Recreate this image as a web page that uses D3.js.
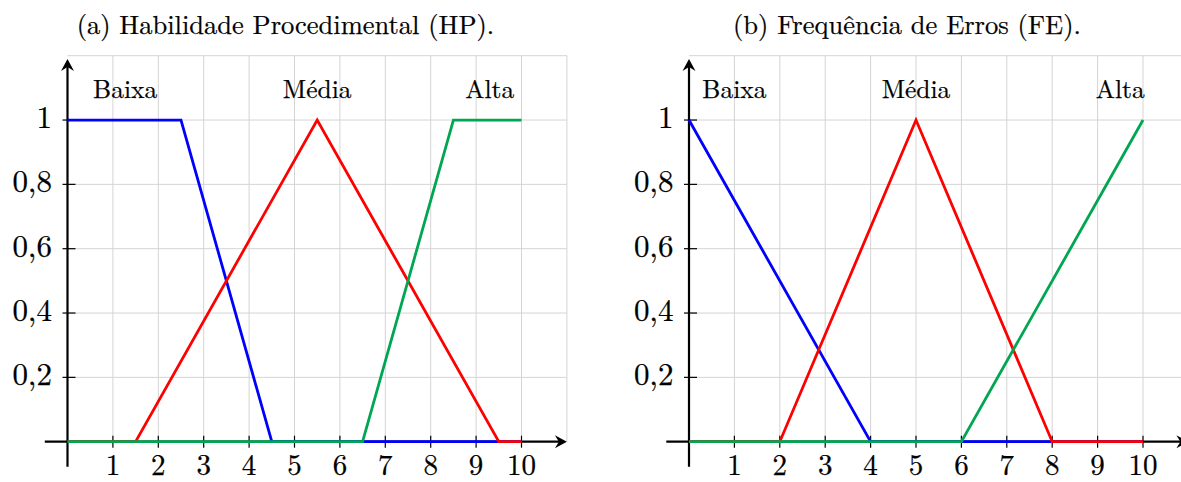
<!DOCTYPE html>
<html lang="pt">
<head>
<meta charset="UTF-8">
<title>Funções de pertinência</title>
<script src="https://d3js.org/d3.v7.min.js"></script>
<style>
  body { margin: 0; background: #fff; }
  .grid line { stroke: #d4d4d4; stroke-width: 1; }
  .curve { fill: none; stroke-width: 2.8; }
</style>
</head>
<body>
<svg id="chart" width="1181" height="482"></svg>
<script>
    const xTicks = [1, 2, 3, 4, 5, 6, 7, 8, 9, 10];
    const yTicks = [0.2, 0.4, 0.6, 0.8, 1];
    const yTickLabels = ["0,2", "0,4", "0,6", "0,8", "1"];
    const setNames = ["Baixa", "Média", "Alta"];
    const colors = ["#0000ff", "#ff0000", "#00a651"];

    // (a) Habilidade Procedimental
    const hpBaixa = [[0, 1], [2.5, 1], [4.5, 0], [10, 0]];
    const hpMedia = [[0, 0], [1.5, 0], [5.5, 1], [9.5, 0], [10, 0]];
    const hpAlta  = [[0, 0], [6.5, 0], [8.5, 1], [10, 1]];
    const hpLabelX = [1.27, 5.5, 9.3];

    // (b) Frequencia de Erros
    const feBaixa = [[0, 1], [4, 0], [10, 0]];
    const feMedia = [[0, 0], [2, 0], [5, 1], [8, 0], [10, 0]];
    const feAlta  = [[0, 0], [6, 0], [10, 1]];
    const feLabelX = [1, 5, 9.5];

    const panels = [
        { title: "(a) Habilidade Procedimental (HP).", left: 67.5, sets: [hpBaixa, hpMedia, hpAlta], labelX: hpLabelX },
        { title: "(b) Frequência de Erros (FE).", left: 689, sets: [feBaixa, feMedia, feAlta], labelX: feLabelX }
    ];

    const font = "'Latin Modern Roman', 'Liberation Serif', serif";
    const svg = d3.select("#chart");
    const unit = 45.4;

    // text helper, light stroke to get the heavier TeX look
    function label(sel, size) {
        return sel.style("font-family", font).style("font-size", size + "px")
            .attr("fill", "#000").attr("stroke", "#000").attr("stroke-width", 0.25);
    }

    function drawPanel(p) {
        const x = d3.scaleLinear().domain([0, 11]).range([p.left, p.left + 11 * unit]);
        const y = d3.scaleLinear().domain([0, 1.2]).range([441.7, 55.7]);
        const g = svg.append("g");

        // grid
        const grid = g.append("g").attr("class", "grid");
        grid.selectAll(".v").data(d3.range(1, 12)).enter().append("line")
            .attr("x1", d => x(d)).attr("x2", d => x(d))
            .attr("y1", y(0)).attr("y2", y(1.2));
        grid.selectAll(".h").data(yTicks.concat([1.2])).enter().append("line")
            .attr("x1", x(0)).attr("x2", x(11))
            .attr("y1", d => y(d)).attr("y2", d => y(d));

        // axes
        g.append("line").attr("x1", x(-0.5)).attr("x2", x(11) - 6)
            .attr("y1", y(0)).attr("y2", y(0))
            .attr("stroke", "#000").attr("stroke-width", 2.2);
        g.append("line").attr("x1", x(0)).attr("x2", x(0))
            .attr("y1", y(-0.078)).attr("y2", y(1.19) + 6)
            .attr("stroke", "#000").attr("stroke-width", 2.2);
        const head = "M0,0 L-12,-6.5 L-8,0 L-12,6.5 Z";
        g.append("path").attr("d", head)
            .attr("transform", `translate(${x(11)},${y(0)})`);
        g.append("path").attr("d", head)
            .attr("transform", `translate(${x(0)},${y(1.19)}) rotate(-90)`);

        // ticks
        g.selectAll(".xt").data(xTicks).enter().append("line")
            .attr("x1", d => x(d)).attr("x2", d => x(d))
            .attr("y1", y(0) - 6).attr("y2", y(0) + 6)
            .attr("stroke", "#000").attr("stroke-width", 1.2);
        g.selectAll(".yt").data(yTicks).enter().append("line")
            .attr("x1", x(0) - 5).attr("x2", x(0) + 8)
            .attr("y1", d => y(d)).attr("y2", d => y(d))
            .attr("stroke", "#000").attr("stroke-width", 1.2);

        label(g.selectAll(".xl").data(xTicks).enter().append("text"), 29)
            .attr("x", d => x(d)).attr("y", y(0) + 33.5)
            .attr("text-anchor", "middle")
            .text(d => d);
        label(g.selectAll(".yl").data(yTicks).enter().append("text"), 31)
            .attr("x", x(0) - 15.5).attr("y", d => y(d) + 8)
            .attr("text-anchor", "end")
            .text((d, i) => yTickLabels[i]);

        // membership functions
        const line = d3.line().x(d => x(d[0])).y(d => y(d[1]));
        g.selectAll(".curve").data(p.sets).enter().append("path")
            .attr("class", "curve")
            .attr("d", line)
            .attr("stroke", (d, i) => colors[i]);

        label(g.selectAll(".lab").data(setNames).enter().append("text"), 25.5)
            .attr("x", (d, i) => x(p.labelX[i])).attr("y", 97.5)
            .attr("text-anchor", "middle")
            .text(d => d);

        label(g.append("text"), 26.5)
            .attr("x", x(4.8)).attr("y", 34)
            .attr("text-anchor", "middle")
            .text(p.title);
    }

    panels.forEach(drawPanel);
</script>
</body>
</html>
